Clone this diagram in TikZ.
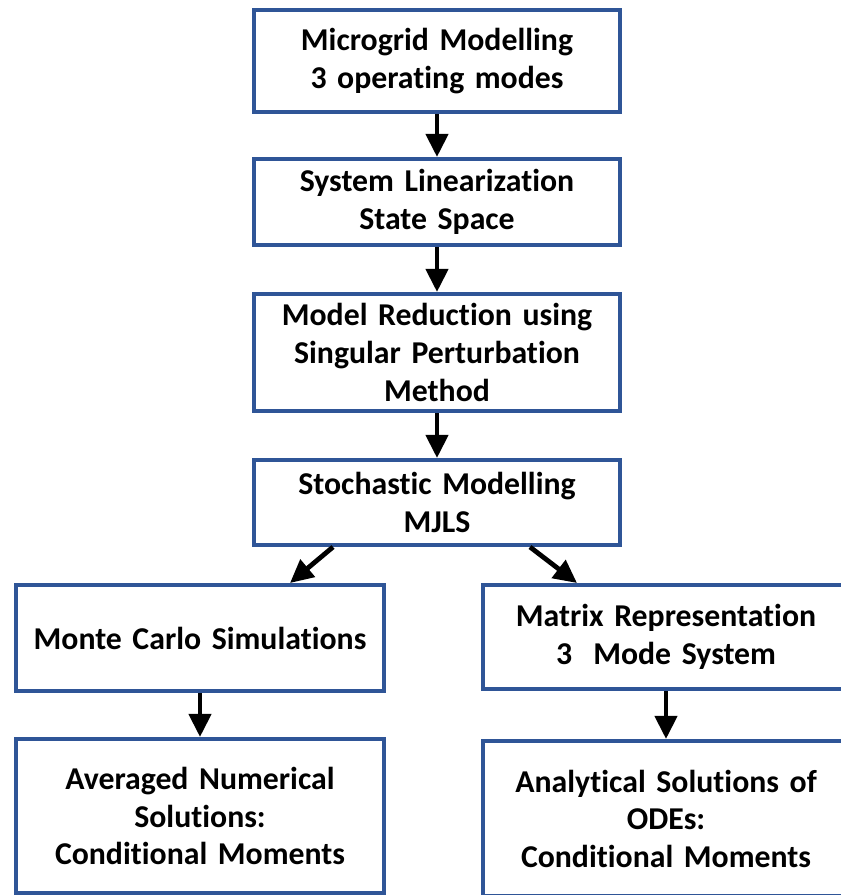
\documentclass[tikz,border=0pt]{standalone}
\usepackage{fontspec}
\setmainfont{Carlito}[WordSpace=0.7, Ligatures=NoCommon]
\usepackage{xcolor}
\usepackage{tikz}
\usetikzlibrary{positioning, arrows.meta}
\definecolor{boxblue}{RGB}{47,85,151}

\begin{document}
\begin{tikzpicture}[
            block/.style={rectangle, draw=boxblue, line width=0.1cm, fill=white, text width=8.6cm, align=center, minimum width=9.15cm, font=\fontsize{22.6}{26.7}\selectfont\bfseries},
            arrow/.style={-{Triangle[width=0.55cm, length=0.58cm]}, line width=0.12cm}
        ]
            \useasboundingbox (-10.925,1.525) rectangle (10.1,-20.85);
            \clip (-10.925,1.525) rectangle (10.1,-20.85);

            \node[block, minimum height=2.55cm] (micro) {Microgrid Modelling\\3 operating modes};
            \node[block, minimum height=2.15cm, below=1.075cm of micro] (linear) {System Linearization\\State Space};
            \node[block, minimum height=2.925cm, below=1.125cm of linear] (reduce) {Model Reduction using\\Singular Perturbation\\Method};
            \node[block, minimum height=2.125cm, below=1.125cm of reduce] (stoch) {Stochastic Modelling\\MJLS};
            \node[block, minimum width=9.2cm, minimum height=2.65cm, below=0.9cm of stoch, xshift=-5.925cm] (monte) {Monte Carlo Simulations};
            \node[block, minimum height=2.6cm, below=0.9cm of stoch, xshift=5.725cm] (matrix) {Matrix Representation\\3\ \ Mode System};
            \node[block, minimum width=9.175cm, minimum height=3.85cm, below=1.1cm of monte] (numeric) {Averaged Numerical\\Solutions:\\Conditional Moments};
            \node[block, minimum height=3.875cm, below=1.2cm of matrix] (analytic) {Analytical Solutions of\\ODEs:\\Conditional Moments};

            \draw[arrow] (micro) -- (linear);
            \draw[arrow] (linear) -- (reduce);
            \draw[arrow] (reduce) -- (stoch);
            \draw[arrow] ([xshift=-2.6cm]stoch.south) -- ([xshift=2.25cm]monte.north);
            \draw[arrow] ([xshift=2.325cm]stoch.south) -- ([xshift=-2.225cm]matrix.north);
            \draw[arrow] (monte) -- (numeric);
            \draw[arrow] (matrix) -- (analytic);

        \end{tikzpicture}
\end{document}
